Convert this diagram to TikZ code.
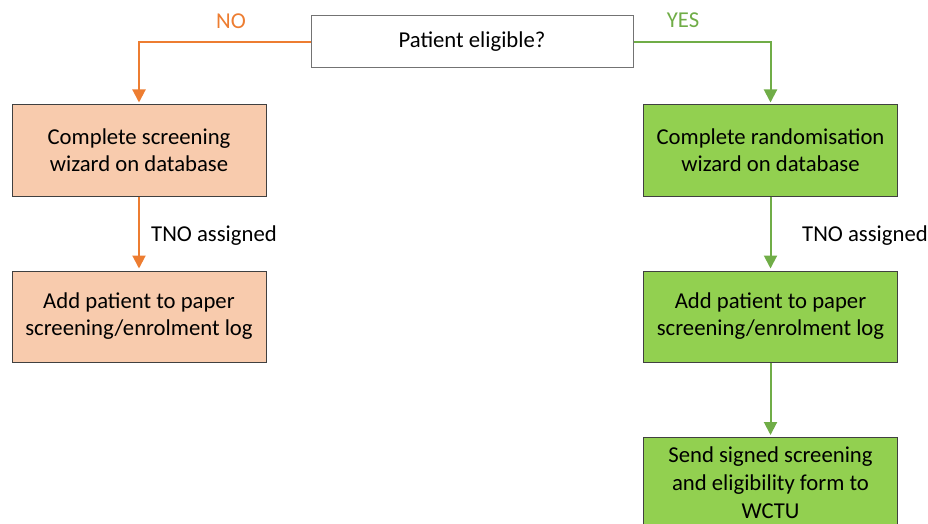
\documentclass[tikz,border=0pt]{standalone}
\usepackage{fontspec}
\setmainfont{Carlito}
\usetikzlibrary{arrows.meta}
\definecolor{peach}{HTML}{F8CBAD}
\definecolor{lgreen}{HTML}{92D050}
\definecolor{orangeline}{HTML}{ED7D31}
\definecolor{greenline}{HTML}{70AD47}
\definecolor{boxedge}{HTML}{404040}
\tikzset{
  box/.style={draw=boxedge, line width=1pt, minimum width=254pt, minimum height=91pt,
    align=center, inner sep=0pt, font=\fontsize{22.7}{27}\selectfont},
  nobox/.style={box, fill=peach},
  yesbox/.style={box, fill=lgreen},
  noarrow/.style={draw=orangeline, line width=2pt, -{Triangle[length=13pt,width=13pt]}, shorten >=2pt},
  yesarrow/.style={draw=greenline, line width=2pt, -{Triangle[length=13pt,width=13pt]}, shorten >=2pt},
  lbl/.style={font=\fontsize{22.7}{27}\selectfont, inner sep=0pt}
}
\begin{document}
\begin{tikzpicture}[x=1pt,y=-1pt]
\useasboundingbox (0,0) rectangle (928,524);
\node[box, draw=gray!90!black, minimum width=322pt, minimum height=52pt] (q) at (472,42) {Patient eligible?};
\node[nobox] (l1) at (139,150.5) {Complete screening\\wizard on database};
\node[nobox] (l2) at (139,316.5) {Add patient to paper\\screening/enrolment log};
\node[yesbox] (r1) at (770.5,150.5) {Complete randomisation\\wizard on database};
\node[yesbox] (r2) at (770.5,316.5) {Add patient to paper\\screening/enrolment log};
\node[yesbox, minimum height=91pt, font=\fontsize{22.7}{28}\selectfont] (r3) at (770.5,483) {Send signed screening\\and eligibility form to\\WCTU};
\draw[noarrow] (q.west) -| (l1.north);
\draw[yesarrow] (q.east) -| (r1.north);
\draw[noarrow] (l1.south) -- (l2.north);
\draw[yesarrow] (r1.south) -- (r2.north);
\draw[yesarrow] (r2.south) -- (r3.north);
\node[lbl, text=orangeline] (no) at (231,21) {NO};
\node[lbl, text=greenline] (yes) at (683,20) {YES};
\node[lbl, anchor=west] (t1) at (151,236) {TNO assigned};
\node[lbl, anchor=west] (t2) at (802,236) {TNO assigned};
\end{tikzpicture}
\end{document}
